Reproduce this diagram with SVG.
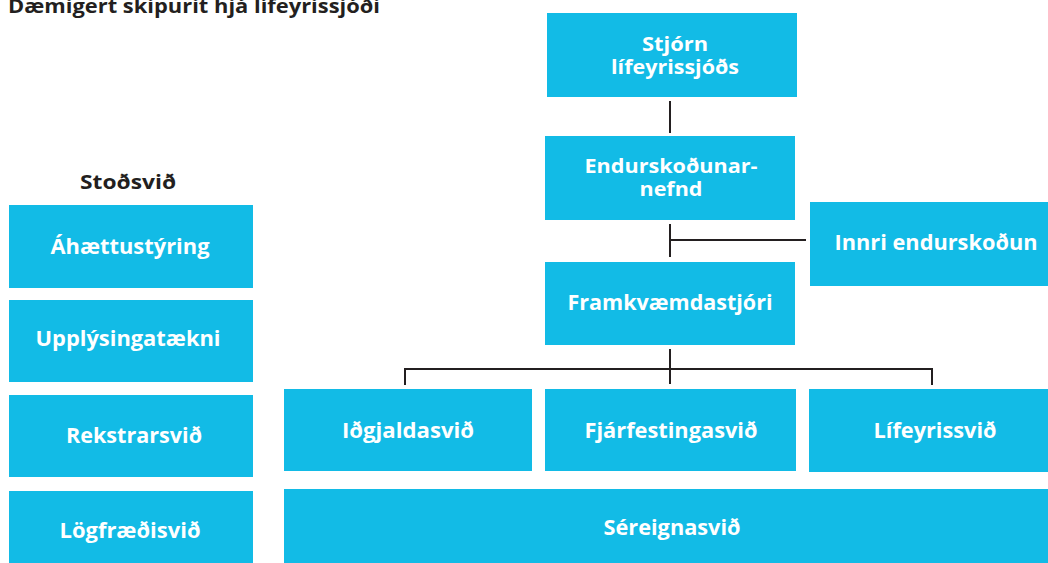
<svg xmlns="http://www.w3.org/2000/svg" width="1048" height="563" viewBox="0 0 1048 563">
<style>
.box{fill:#12BBE6}
.t{font-family:"Open Sans","Noto Sans",sans-serif;font-weight:700;fill:#fff;font-size:21px;text-anchor:middle}
.t2{font-size:20px}
.h{font-family:"Open Sans","Noto Sans",sans-serif;font-weight:700;fill:#231F20;text-anchor:middle}
.ln{stroke:#231F20;stroke-width:2;fill:none}
</style>
<rect width="1048" height="563" fill="#fff"/>
<text class="h" x="8" y="13" font-size="19" style="text-anchor:start" textLength="372" lengthAdjust="spacingAndGlyphs">Dæmigert skipurit hjá lífeyrissjóði</text>
<text class="h" x="128" y="189" font-size="20" textLength="96" lengthAdjust="spacingAndGlyphs">Stoðsvið</text>

<g id="connectors">
<path class="ln" d="M670 101V133"/>
<path class="ln" d="M670 224V257M670 240H806"/>
<path class="ln" d="M670 349V384M405 385V369H932V385"/>
</g>

<g id="stjorn"><rect class="box" x="547" y="13" width="250" height="84"/>
<text class="t t2" x="675" y="51" textLength="66" lengthAdjust="spacingAndGlyphs">Stjórn</text><text class="t t2" x="675" y="74" textLength="128" lengthAdjust="spacingAndGlyphs">lífeyrissjóðs</text></g>
<g id="endurskodunarnefnd"><rect class="box" x="545" y="136" width="250" height="84"/>
<text class="t t2" x="671" y="173" textLength="173" lengthAdjust="spacingAndGlyphs">Endurskoðunar-</text><text class="t t2" x="671" y="196" textLength="63" lengthAdjust="spacingAndGlyphs">nefnd</text></g>
<g id="innri"><rect class="box" x="810" y="202" width="238" height="84"/>
<text class="t" x="936" y="250" textLength="203" lengthAdjust="spacingAndGlyphs">Innri endurskoðun</text></g>
<g id="framkvaemdastjori"><rect class="box" x="545" y="262" width="250" height="83"/>
<text class="t" x="670" y="310" textLength="205" lengthAdjust="spacingAndGlyphs">Framkvæmdastjóri</text></g>
<g id="idgjaldasvid"><rect class="box" x="284" y="389" width="248" height="82"/>
<text class="t" x="408" y="438" textLength="132" lengthAdjust="spacingAndGlyphs">Iðgjaldasvið</text></g>
<g id="fjarfestingasvid"><rect class="box" x="545" y="389" width="251" height="82"/>
<text class="t" x="671" y="438" textLength="173" lengthAdjust="spacingAndGlyphs">Fjárfestingasvið</text></g>
<g id="lifeyrissvid"><rect class="box" x="809" y="389" width="239" height="83"/>
<text class="t" x="935" y="438" textLength="123" lengthAdjust="spacingAndGlyphs">Lífeyrissvið</text></g>
<g id="sereignasvid"><rect class="box" x="284" y="489" width="764" height="74"/>
<text class="t" x="672" y="535" textLength="137" lengthAdjust="spacingAndGlyphs">Séreignasvið</text></g>

<g id="ahaettustyring"><rect class="box" x="9" y="205" width="244" height="83"/>
<text class="t" x="130" y="254" textLength="159" lengthAdjust="spacingAndGlyphs">Áhættustýring</text></g>
<g id="upplysingataekni"><rect class="box" x="9" y="300" width="244" height="82"/>
<text class="t" x="128" y="346" textLength="185" lengthAdjust="spacingAndGlyphs">Upplýsingatækni</text></g>
<g id="rekstrarsvid"><rect class="box" x="9" y="395" width="244" height="82"/>
<text class="t" x="134" y="443" textLength="136" lengthAdjust="spacingAndGlyphs">Rekstrarsvið</text></g>
<g id="logfraedisvid"><rect class="box" x="9" y="491" width="244" height="72"/>
<text class="t" x="130" y="538" textLength="141" lengthAdjust="spacingAndGlyphs">Lögfræðisvið</text></g>
</svg>
